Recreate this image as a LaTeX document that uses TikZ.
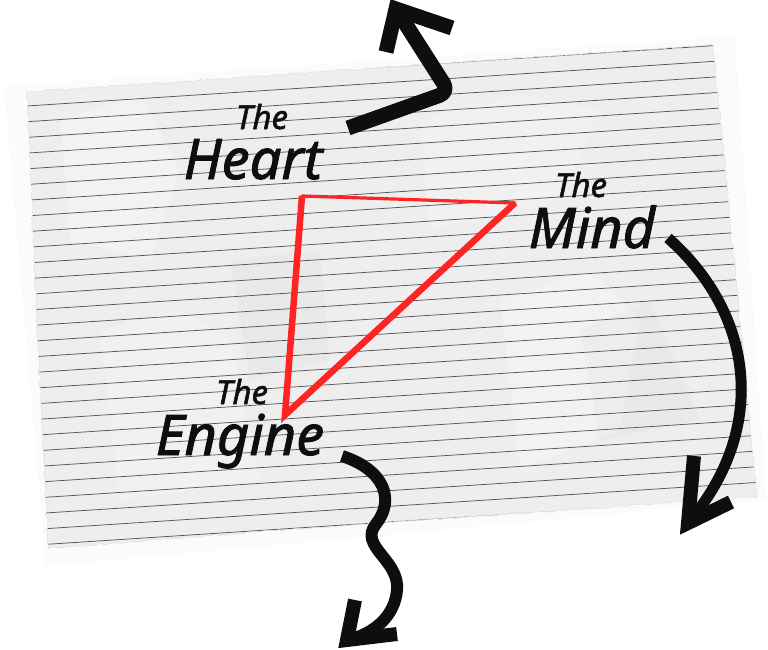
\documentclass[tikz,border=0pt]{standalone}
\usepackage{fontspec}
\newfontfamily\hand{Noto Sans}[FakeBold=1.6]
\usetikzlibrary{decorations.pathmorphing}
\definecolor{paper}{HTML}{EEEEEE}
\definecolor{halo}{HTML}{FBFBFB}
\definecolor{rule}{HTML}{555555}
\definecolor{ink}{HTML}{0E0E0E}
\definecolor{marker}{HTML}{FF2424}
\begin{document}
\begin{tikzpicture}[x=1pt,y=-1pt,
  torn/.style={decorate,decoration={random steps,segment length=3pt,amplitude=1.2pt}},
  ruleline/.style={draw=rule,line width=0.75pt},
  small/.style={font=\hand\itshape\fontsize{33}{33}\selectfont,inner sep=0pt,text=ink,anchor=base},
  big/.style={font=\hand\itshape\fontsize{56}{56}\selectfont,inner sep=0pt,text=ink,anchor=base},
  brush/.style={draw=ink,line cap=butt,line join=round},
  head/.style={draw=ink,line cap=butt,line join=miter,miter limit=10}]
\useasboundingbox (0,0) rectangle (768,650);
\fill[white] (0,0) rectangle (768,650);
% faint halo round the sheet
\fill[halo] (4,86) -- (735,36) -- (766,500) -- (46,566) -- cycle;
% the sheet
\pgfmathsetseed{11}
\fill[paper,torn] (27,92) -- (713,45) -- (733,250) -- (757,497) -- (390,522) -- (48,548) -- (36,300) -- cycle;
% crumple highlights
\begin{scope}
\clip (27,92) -- (713,45) -- (733,250) -- (757,497) -- (390,522) -- (48,548) -- (36,300) -- cycle;
\fill[white,opacity=0.25] (60,120) -- (140,95) -- (180,170) -- (150,260) -- (70,240) -- cycle;
\fill[white,opacity=0.2] (420,120) -- (520,95) -- (600,110) -- (560,200) -- (430,230) -- cycle;
\fill[white,opacity=0.25] (500,300) -- (590,270) -- (640,320) -- (620,430) -- (520,470) -- cycle;
\fill[white,opacity=0.2] (100,330) -- (180,310) -- (230,340) -- (260,480) -- (120,500) -- cycle;
\fill[black,opacity=0.02] (230,260) -- (320,250) -- (330,360) -- (250,380) -- cycle;
\fill[black,opacity=0.02] (580,330) -- (650,300) -- (700,420) -- (600,440) -- cycle;
\foreach \k in {-2,...,30}
  \draw[ruleline] (0,{107.75+15.7*\k}) -- (768,{57.83+15.7*\k});
\end{scope}
\pgfmathsetseed{11}
\draw[torn,draw=black!12,line width=0.5pt] (27,92) -- (713,45) -- (733,250) -- (757,497) -- (390,522) -- (48,548) -- (36,300) -- cycle;

% labels
\node[small] (heartThe) at (262,129) {The};
\node[big] (heart) at (253,179) {Heart};
\node[small] (mindThe) at (581,197) {The};
\node[big] (mind) at (592,248) {Mind};
\node[small] (engineThe) at (242,404) {The};
\node[big] (engine) at (240,455) {Engine};

% red triangle
\coordinate (tA) at (302,196);
\coordinate (tB) at (515,203);
\coordinate (tC) at (285,415);
\draw[marker,line width=3.2pt,line cap=round] (tA) -- (tB);
\draw[marker,line width=6.5pt,line join=miter,miter limit=20] (tB) -- (tC) -- (tA);

% arrow from the Heart
\coordinate (h0) at (348,128);
\coordinate (hc) at (449,92);
\coordinate (ht) at (396,9);
\coordinate (ha) at (386,52);
\coordinate (hb) at (452,28);
\draw[brush,line width=15pt,rounded corners=10pt] (h0) -- (hc) -- (ht);
\draw[head,line width=15pt] (ha) -- (ht) -- (hb);

% arrow from the Mind
\coordinate (m0) at (668,238);
\coordinate (mt) at (688,523);
\coordinate (ma) at (694,456);
\coordinate (mb) at (731,502);
\draw[brush,line width=11pt] (m0) .. controls (755,315) and (768,430) .. (mt);
\draw[head,line width=14pt] (ma) -- (mt) -- (mb);

% arrow from the Engine
\coordinate (e0) at (342,456);
\coordinate (et) at (347,640);
\coordinate (ea) at (355,600);
\coordinate (eb) at (397,634);
\draw[brush,line width=12pt] (e0) .. controls (385,470) and (395,500) .. (376,524)
  .. controls (358,546) and (400,560) .. (397,590)
  .. controls (395,615) and (375,634) .. (et);
\draw[head,line width=14pt] (ea) -- (et) -- (eb);
\end{tikzpicture}
\end{document}
